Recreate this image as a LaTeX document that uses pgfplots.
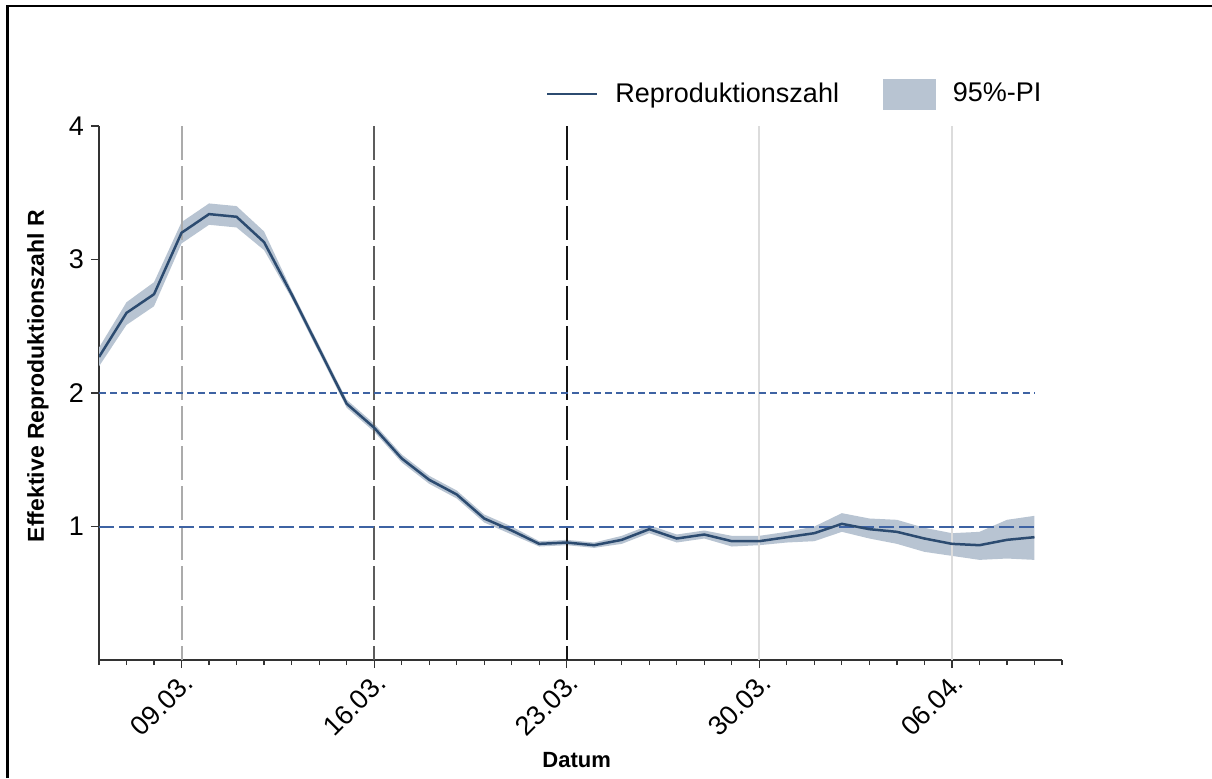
\documentclass[border=0pt]{standalone}
\usepackage{fontspec}
\setmainfont{Liberation Sans}
\usepackage{pgfplots}
\pgfplotsset{compat=1.18}
\usepgfplotslibrary{fillbetween}
\usepackage{pgfplotstable}

\definecolor{linecol}{HTML}{2C4B70}
\definecolor{bandcol}{HTML}{B8C4D2}
\definecolor{refblue}{HTML}{3E63A3}
\definecolor{vgrayA}{HTML}{ABABAB}
\definecolor{vgrayB}{HTML}{5C5C5C}
\definecolor{vgrayC}{HTML}{151515}
\definecolor{vgrid}{HTML}{DCDCDC}

\pgfplotstableread{
d R lo hi
-3 2.27 2.20 2.34
-2 2.60 2.51 2.68
-1 2.74 2.65 2.83
0 3.20 3.12 3.28
1 3.34 3.26 3.42
2 3.32 3.24 3.40
3 3.13 3.07 3.21
4 2.74 2.71 2.77
5 2.33 2.30 2.36
6 1.92 1.89 1.95
7 1.74 1.71 1.77
8 1.51 1.48 1.54
9 1.35 1.32 1.38
10 1.24 1.21 1.27
11 1.06 1.03 1.09
12 0.97 0.94 1.00
13 0.87 0.85 0.89
14 0.88 0.86 0.90
15 0.86 0.84 0.88
16 0.90 0.87 0.93
17 0.98 0.95 1.01
18 0.91 0.88 0.94
19 0.94 0.91 0.97
20 0.89 0.85 0.93
21 0.89 0.86 0.93
22 0.92 0.88 0.96
23 0.95 0.89 1.00
24 1.02 0.96 1.10
25 0.98 0.91 1.06
26 0.96 0.87 1.05
27 0.91 0.81 0.99
28 0.87 0.78 0.95
29 0.86 0.75 0.96
30 0.90 0.76 1.05
31 0.92 0.75 1.08
}\rdata

\begin{document}
\begin{tikzpicture}
\begin{axis}[
  at={(49.5pt,59pt)}, anchor=south west,
  scale only axis, width=481.5pt, height=267pt,
  xmin=-3, xmax=32, ymin=0, ymax=4,
  axis lines=left,
  axis line style={-, line width=0.75pt, color=black!80},
  xtick={0,7,14,21,28},
  xticklabels={09.03.,16.03.,23.03.,30.03.,06.04.},
  minor xtick={-3,-2,...,32},
  ytick={1,2,3,4},
  tick align=outside,
  major tick length=4pt, minor tick length=2.5pt,
  tick style={line width=0.6pt, color=black!80},
  /pgf/number format/assume math mode=true,
  xticklabel style={rotate=45, anchor=north east, inner sep=1pt, font=\fontsize{13.5}{16}\selectfont},
  yticklabel style={font=\fontsize{13.5}{16}\selectfont},
  xlabel={Datum},
  xlabel style={font=\bfseries\fontsize{11}{13}\selectfont, at={(axis description cs:0.496,-0.187)}, anchor=center},
  ylabel={Effektive Reproduktionszahl R},
  ylabel style={font=\bfseries\fontsize{11.5}{13}\selectfont, at={(axis description cs:-0.0633,0.532)}, anchor=center},
  legend style={draw=none, fill=none, inner sep=0pt, outer sep=0pt,
    at={(axis description cs:0.4642,1.06)}, anchor=west,
    font=\fontsize{13.5}{16}\selectfont,
    nodes={inner sep=0pt},
    /tikz/every odd column/.append style={column sep=8.5pt},
    /tikz/every even column/.append style={column sep=22pt}},
  legend columns=-1,
]
% vertical markers
\addplot[vgrid, line width=1pt, forget plot] coordinates {(21,0) (21,4)};
\addplot[vgrid, line width=1pt, forget plot] coordinates {(28,0) (28,4)};
\addplot[vgrayA, line width=1pt, dash pattern=on 17pt off 3pt, forget plot] coordinates {(0,4) (0,0)};
\addplot[vgrayB, line width=1pt, dash pattern=on 17pt off 3pt, forget plot] coordinates {(7,4) (7,0)};
\addplot[vgrayC, line width=1pt, dash pattern=on 17pt off 3pt, forget plot] coordinates {(14,4) (14,0)};
% band
\addplot[name path=hi, draw=none, forget plot] table[x=d, y=hi]{\rdata};
\addplot[name path=lo, draw=none, forget plot] table[x=d, y=lo]{\rdata};
\addplot[bandcol, forget plot] fill between[of=hi and lo];
% reference lines
\addplot[refblue, line width=1pt, dash pattern=on 3.5pt off 2pt, forget plot] coordinates {(-3,2) (31,2)};
\addplot[refblue, line width=1pt, dash pattern=on 7.5pt off 2.5pt, forget plot] coordinates {(-3,1) (31,1)};
% main line
\addplot[linecol, line width=1.25pt, forget plot] table[x=d, y=R]{\rdata};
% legend
\addlegendimage{legend image code/.code={\draw[linecol, line width=1.2pt] (0pt,0pt) -- (25pt,0pt);}}
\addlegendentry{Reproduktionszahl}
\addlegendimage{legend image code/.code={\fill[bandcol] (0pt,-7.5pt) rectangle (26pt,7.5pt);}}
\addlegendentry{95\%-PI}
\end{axis}
\draw[line width=1.2pt] (3.75pt,0) -- (3.75pt,386pt) -- (606pt,386pt);
\pgfresetboundingbox
\useasboundingbox (0,0) rectangle (606pt,389pt);
\end{tikzpicture}
\end{document}
